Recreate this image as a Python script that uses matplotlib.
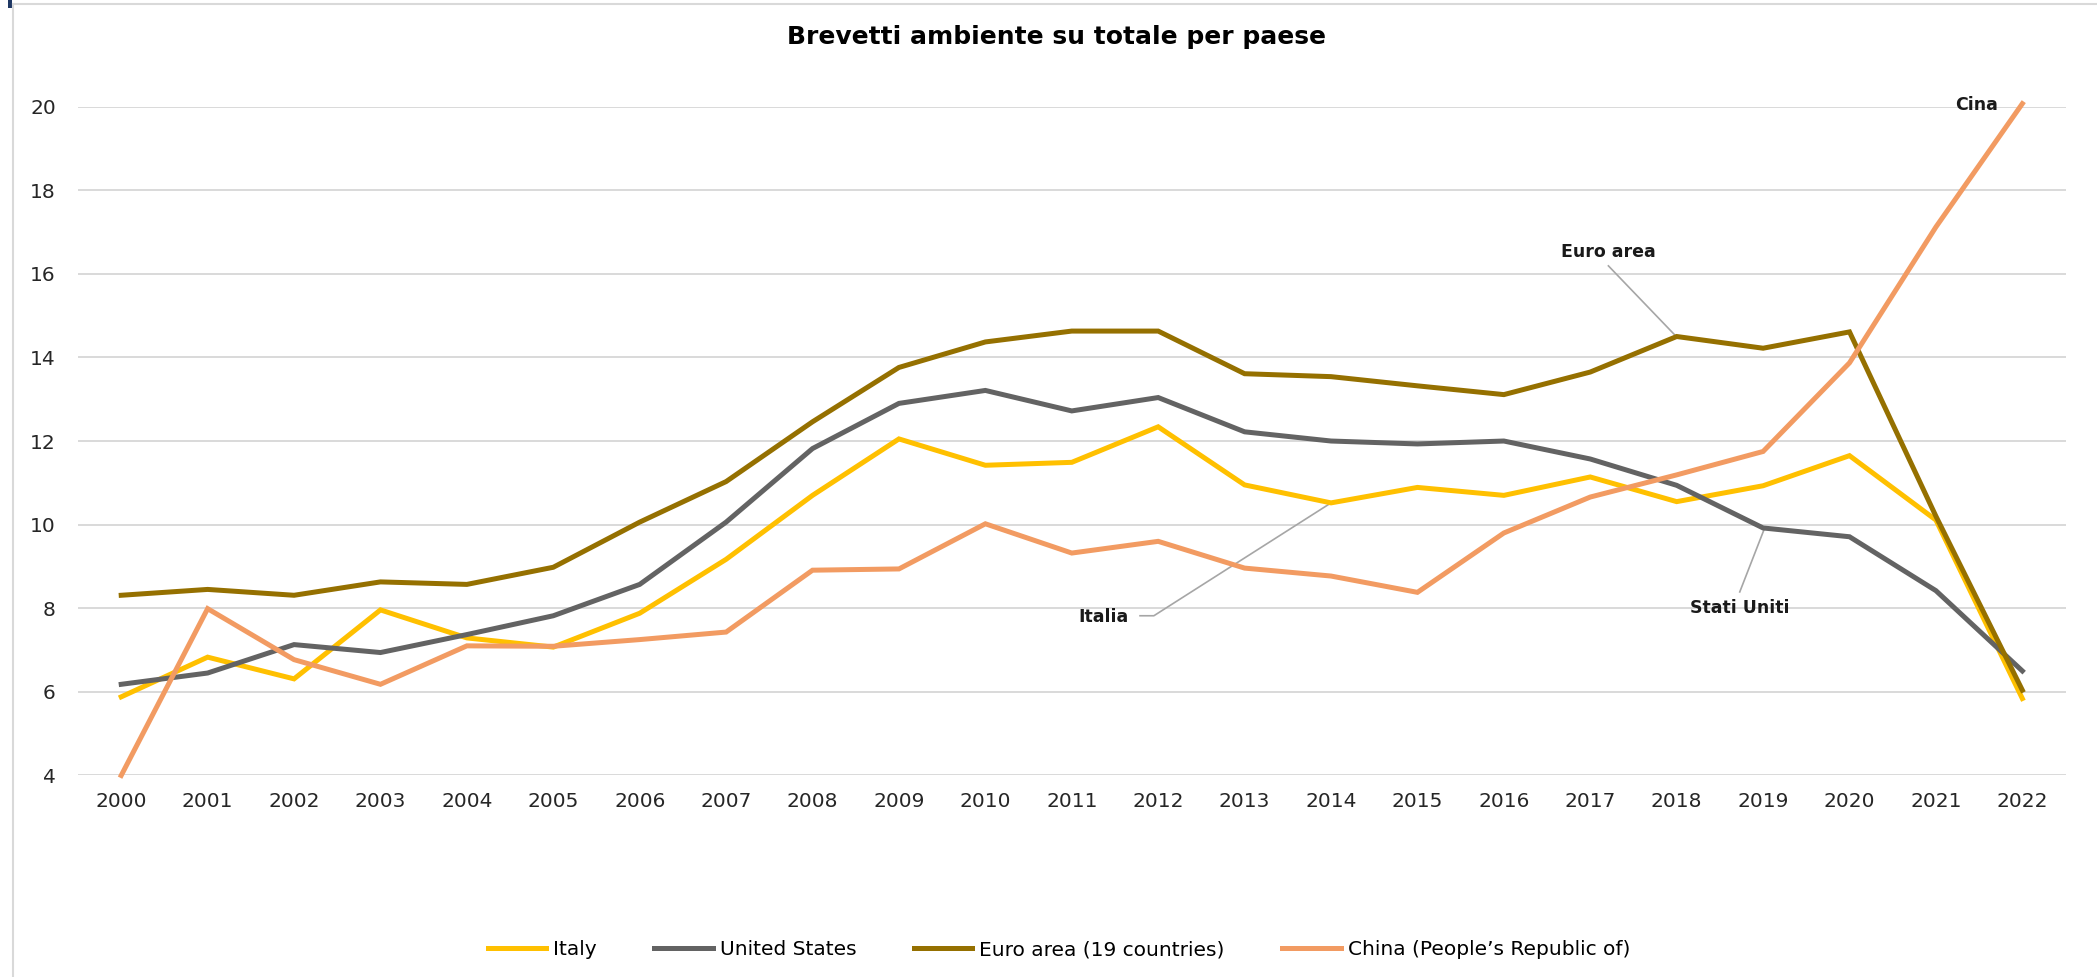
import numpy as np
import matplotlib
matplotlib.use("Agg")
import matplotlib.pyplot as plt
from matplotlib.lines import Line2D
from matplotlib.patches import Rectangle

plt.rcParams['font.family'] = ['DejaVu Sans']

# dati
years = [str(y) for y in range(2000, 2023)]
italy = [5.88, 6.83, 6.31, 7.96, 7.29, 7.07, 7.88, 9.17, 10.70, 12.05, 11.42,
         11.49, 12.34, 10.95, 10.52, 10.89, 10.70, 11.14, 10.55, 10.93, 11.65, 10.11, 5.84]
usa = [6.18, 6.45, 7.13, 6.94, 7.37, 7.82, 8.57, 10.06, 11.82, 12.90, 13.21,
       12.72, 13.04, 12.22, 12.00, 11.93, 12.00, 11.57, 10.94, 9.92, 9.71, 8.42, 6.50]
euro = [8.31, 8.45, 8.31, 8.63, 8.57, 8.98, 10.06, 11.03, 12.46, 13.76, 14.37,
        14.63, 14.63, 13.61, 13.54, 13.32, 13.11, 13.65, 14.50, 14.22, 14.61, 10.20, 6.04]
china = [4.0, 7.99, 6.77, 6.18, 7.10, 7.09, 7.25, 7.43, 8.91, 8.94, 10.02,
         9.32, 9.60, 8.96, 8.77, 8.38, 9.80, 10.66, 11.19, 11.75, 13.87, 17.12, 20.07]

names = ["Italy", "United States", "Euro area (19 countries)", "China (People\u2019s Republic of)"]
colors = ["#FFC000", "#636363", "#957000", "#F29B62"]
yticks = [4, 6, 8, 10, 12, 14, 16, 18, 20]

fig = plt.figure(figsize=(20.97, 9.77), dpi=100)
ax = fig.add_axes([0.0372, 0.2063, 0.9478, 0.6846])

x = np.arange(len(years))
handles = []
for serie, name, col in zip([italy, usa, euro, china], names, colors):
    h, = ax.plot(x, serie, color=col, lw=3.6, label=name, solid_joinstyle='miter',
                 zorder=3, clip_on=False)
    handles.append(h)

ax.set_xlim(-0.5, len(years) - 0.5)
ax.set_ylim(4, 20)
ax.set_xticks(x)
ax.set_xticklabels(years)
ax.set_yticks(yticks)
ax.tick_params(length=0, labelsize=14.5, colors="#262626")
ax.tick_params(axis='x', pad=12)
ax.tick_params(axis='y', pad=16)
ax.grid(axis='y', color="#D9D9D9", lw=1.4, zorder=0)
for s in ax.spines.values():
    s.set_visible(False)

# etichette e linee guida
lead = "#A6A6A6"
lab = dict(fontsize=12.5, fontweight='bold', color="#1a1a1a")
ax.text(21.72, 20.05, "Cina", ha='right', va='center', **lab)
ax.text(17.21, 16.51, "Euro area", ha='center', va='center', **lab)
ax.plot([17.21, 18.0], [16.19, 14.49], color=lead, lw=1.2, zorder=2)
ax.text(11.37, 7.79, "Italia", ha='center', va='center', **lab)
ax.plot([11.79, 11.95, 14.0], [7.82, 7.82, 10.52], color=lead, lw=1.2, zorder=2)
ax.text(18.73, 8.01, "Stati Uniti", ha='center', va='center', **lab)
ax.plot([18.73, 19.02], [8.39, 9.93], color=lead, lw=1.2, zorder=2)

fig.text(0.504, 0.962, "Brevetti ambiente su totale per paese", ha='center', va='center',
         fontsize=18, fontweight='bold')

fig.legend(handles=handles, loc='center', bbox_to_anchor=(0.505, 0.028), ncol=4,
           frameon=False, fontsize=14.5, handlelength=2.9, handletextpad=0.35,
           columnspacing=2.85)

# cornice del grafico
fig.add_artist(Line2D([0.0062, 0.0062], [0.0, 0.996], color="#D9D9D9", lw=1.5))
fig.add_artist(Line2D([0.0062, 1.0], [0.996, 0.996], color="#D9D9D9", lw=1.5))
fig.add_artist(Rectangle((0.0038, 0.992), 0.002, 0.008, color="#1F3864", lw=0))

fig.savefig("out.png", dpi=100)
